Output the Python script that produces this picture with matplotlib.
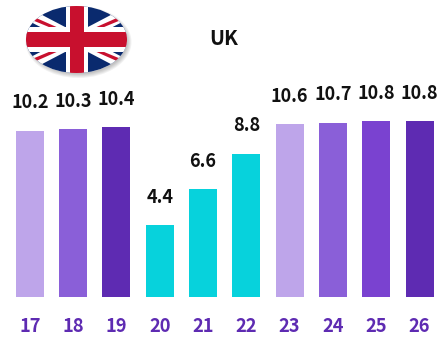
import matplotlib
matplotlib.use('Agg')
import matplotlib.pyplot as plt
from matplotlib.patches import Ellipse, Polygon, Rectangle

plt.rcParams['font.family'] = ['Noto Sans CJK KR', 'DejaVu Sans']

years = ['17', '18', '19', '20', '21', '22', '23', '24', '25', '26']
values = [10.2, 10.3, 10.4, 4.4, 6.6, 8.8, 10.6, 10.7, 10.8, 10.8]
colors = ['#BEA5EA', '#8A5FD8', '#5E2BB2', '#07D2DC', '#07D2DC', '#07D2DC',
          '#BEA5EA', '#8A5FD8', '#7A42D0', '#5E2BB2']
title = 'UK'

W, H = 438, 337
fig = plt.figure(figsize=(W / 100, H / 100), dpi=100)

# bars, axes fills the whole figure so the spacing can be set from pixels
ax = fig.add_axes([0, 0, 1, 1])
step = 43.3
scale = 16.3
ax.set_xlim(-29.8 / step, (W - 29.8) / step)
ax.set_ylim(-(H - 297) / scale, 297 / scale)
pos = list(range(len(years)))
ax.bar(pos, values, width=28 / step, color=colors)
for i in pos:
    ax.annotate('%.1f' % values[i], (i, values[i]), xytext=(0, 20), textcoords='offset points',
                ha='center', va='center', fontsize=13, fontweight='bold', color='#111111')
    ax.annotate(years[i], (i, 0), xytext=(0, -21.5), textcoords='offset points',
                ha='center', va='center', fontsize=13.2, fontweight='bold', color='#5E2BB2')
ax.axis('off')
fig.text(224 / W, 1 - 38.5 / H, title, ha='center', va='center', fontsize=14.5, fontweight='bold', color='#111111')

# flag, drawn in pixel coordinates
fl = fig.add_axes([0, 0, 1, 1])
fl.set_xlim(0, W)
fl.set_ylim(H, 0)
fl.axis('off')
cx, cy, rx, ry = 76.5, 39.5, 50.5, 33.5
for k in range(5):
    fl.add_patch(Ellipse((cx + 2, cy + 2.5), 2 * rx + 5 - 2 * k, 2 * ry + 5 - 2 * k, color='black', alpha=0.05, lw=0))
clip = Ellipse((cx, cy), 2 * rx, 2 * ry, fc='white', lw=0)
fl.add_patch(clip)
shapes = [Rectangle((cx - rx, cy - ry), 2 * rx, 2 * ry, color='#0A2A6E', lw=0)]
for sy in (-1, 1):
    # white diagonals
    shapes.append(Polygon([(cx - rx, cy + sy * 33), (cx - rx, cy + sy * 20), (cx + rx, cy - sy * 33), (cx + rx, cy - sy * 20)], color='white', lw=0))
    shapes.append(Polygon([(cx - rx, cy + sy * 26), (cx - rx, cy + sy * 22), (cx, cy + sy * 1), (cx + 6, cy + sy * 1)], color='#C8102E', lw=0))
    shapes.append(Polygon([(cx + rx, cy - sy * 26), (cx + rx, cy - sy * 22), (cx, cy - sy * 1), (cx - 6, cy - sy * 1)], color='#C8102E', lw=0))
shapes.append(Rectangle((cx - 11, cy - ry), 22, 2 * ry, color='white', lw=0))
shapes.append(Rectangle((cx - rx, cy - 12.5), 2 * rx, 25, color='white', lw=0))
shapes.append(Rectangle((cx - 7, cy - ry), 14, 2 * ry, color='#C8102E', lw=0))
shapes.append(Rectangle((cx - rx, cy - 7.5), 2 * rx, 15, color='#C8102E', lw=0))
for s in shapes:
    fl.add_patch(s)
    s.set_clip_path(clip)

fig.savefig('out.png', dpi=100)
